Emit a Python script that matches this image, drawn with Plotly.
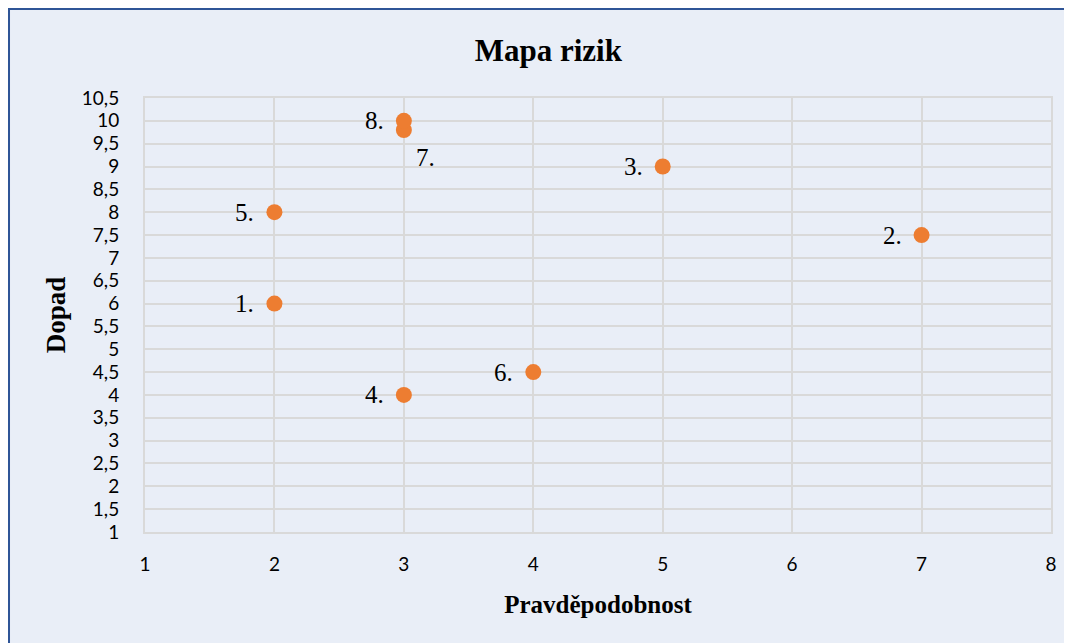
import plotly.graph_objects as go

# data
rizika = ['1.', '2.', '3.', '4.', '5.', '6.', '7.', '8.']
pravdepodobnost = [2, 7, 5, 3, 2, 4, 3, 3]
dopad = [6, 7.5, 9, 4, 8, 4.5, 9.8, 10]

x_ticks = [1, 2, 3, 4, 5, 6, 7, 8]
y_ticks = [1, 1.5, 2, 2.5, 3, 3.5, 4, 4.5, 5, 5.5, 6, 6.5, 7, 7.5,
           8, 8.5, 9, 9.5, 10, 10.5]

BG = '#E9EEF7'
ORANGE = '#ED7D31'
GRID = '#D9D9D9'
SERIF = 'Liberation Serif, Times New Roman, serif'
SANS = 'Lato, Open Sans, sans-serif'

fig = go.Figure()

fig.add_trace(go.Scatter(
    x=pravdepodobnost,
    y=dopad,
    mode='markers',
    marker=dict(color=ORANGE, size=16),
    hovertemplate='%{x}, %{y}<extra></extra>',
    showlegend=False
))

# popisky bodu
for name, xv, yv in zip(rizika, pravdepodobnost, dopad):
    if name == '7.':
        fig.add_annotation(x=xv, y=yv, text=name, showarrow=False,
                           xanchor='left', yanchor='middle',
                           xshift=10, yshift=-28,
                           font=dict(family=SERIF, size=25, color='#000'))
    else:
        fig.add_annotation(x=xv, y=yv, text=name, showarrow=False,
                           xanchor='right', yanchor='middle',
                           xshift=-18,
                           font=dict(family=SERIF, size=25, color='#000'))

# ramecek grafu
fig.add_shape(type='rect', xref='paper', yref='paper',
              x0=-0.1501, x1=1.05, y0=-0.3, y1=1.2051,
              line=dict(color='#2F5597', width=2),
              layer='below')

fig.update_layout(
    width=1072,
    height=643,
    margin=dict(l=137, r=29, t=90, b=119),
    paper_bgcolor=BG,
    plot_bgcolor=BG,
    separators=', ',
    title=dict(text='<b>Mapa rizik</b>', x=0.504, xanchor='center',
               y=0.935, yanchor='middle',
               font=dict(family=SERIF, size=31, color='#000')),
    xaxis=dict(
        range=[1, 8],
        tickvals=x_ticks,
        showgrid=True, gridcolor=GRID, gridwidth=1.5,
        showline=True, linecolor=GRID, linewidth=2, mirror=True,
        zeroline=False,
        ticks='outside', ticklen=14, tickcolor='rgba(0,0,0,0)',
        tickfont=dict(family=SANS, size=19, color='#000'),
        title=dict(text='<b>Pravděpodobnost</b>', standoff=22,
                   font=dict(family=SERIF, size=25, color='#000'))
    ),
    yaxis=dict(
        range=[1, 10.5],
        tickvals=y_ticks,
        showgrid=True, gridcolor=GRID, gridwidth=1.5,
        showline=True, linecolor=GRID, linewidth=2, mirror=True,
        zeroline=False,
        ticks='outside', ticklen=20, tickcolor='rgba(0,0,0,0)',
        tickfont=dict(family=SANS, size=19, color='#000'),
        title=dict(text='<b>Dopad</b>', standoff=8,
                   font=dict(family=SERIF, size=27, color='#000'))
    )
)

fig.write_html('out.html')
